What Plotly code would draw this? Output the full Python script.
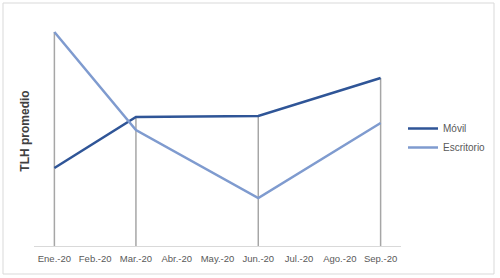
import plotly.graph_objects as go

months = ["Ene.-20", "Feb.-20", "Mar.-20", "Abr.-20", "May.-20",
          "Jun.-20", "Jul.-20", "Ago.-20", "Sep.-20"]
movil = [0.78, None, 1.29, None, None, 1.30, None, None, 1.68]
escritorio = [2.14, None, 1.16, None, None, 0.48, None, None, 1.23]

fig = go.Figure()

# drop lines from the highest value down to the axis
dx, dy = [], []
for m, a, b in zip(months, movil, escritorio):
    vals = [v for v in (a, b) if v is not None]
    if vals:
        dx += [m, m, None]
        dy += [0, max(vals), None]
fig.add_trace(go.Scatter(x=dx, y=dy, mode="lines", showlegend=False,
                         line=dict(color="#A6A6A6", width=1.5), hoverinfo="skip"))

fig.add_trace(go.Scatter(x=months, y=movil, name="Móvil", mode="lines",
                         connectgaps=True, line=dict(color="#2F5597", width=2.5)))
fig.add_trace(go.Scatter(x=months, y=escritorio, name="Escritorio", mode="lines",
                         connectgaps=True, line=dict(color="#7F9BCF", width=2.5)))

L, R, T, B = 34, 99, 16, 32
W, H = 500, 278
pw, ph = W - L - R, H - T - B

def px(x):
    return (x - L) / pw

def py(y):
    return (H - B - y) / ph

fig.update_layout(
    width=W, height=H,
    margin=dict(l=L, r=R, t=T, b=B, autoexpand=False),
    paper_bgcolor="white", plot_bgcolor="white",
    font=dict(family="Liberation Sans, Arial, sans-serif", color="#595959"),
    xaxis=dict(type="category", categoryorder="array", categoryarray=months,
               range=[-0.5, 8.5], showgrid=False, zeroline=False,
               showline=True, linecolor="#D9D9D9", linewidth=1,
               ticks="", ticklabelstandoff=4,
               tickfont=dict(size=9.5, color="#595959")),
    yaxis=dict(range=[0, 2.3], showgrid=False, zeroline=False, showline=False,
               showticklabels=False, ticks="",
               title=dict(text="<b>TLH promedio</b>", font=dict(size=12, color="#404040"),
                          standoff=0)),
    legend=dict(x=px(403), xanchor="left", y=py(114), yanchor="top",
                font=dict(size=10, color="#595959"), bgcolor="rgba(0,0,0,0)",
                itemwidth=30),
    shapes=[dict(type="rect", xref="paper", yref="paper",
                 x0=px(3), x1=px(494), y0=py(274), y1=py(3),
                 line=dict(color="#D9D9D9", width=1), layer="below")],
)

fig.write_html("out.html")
